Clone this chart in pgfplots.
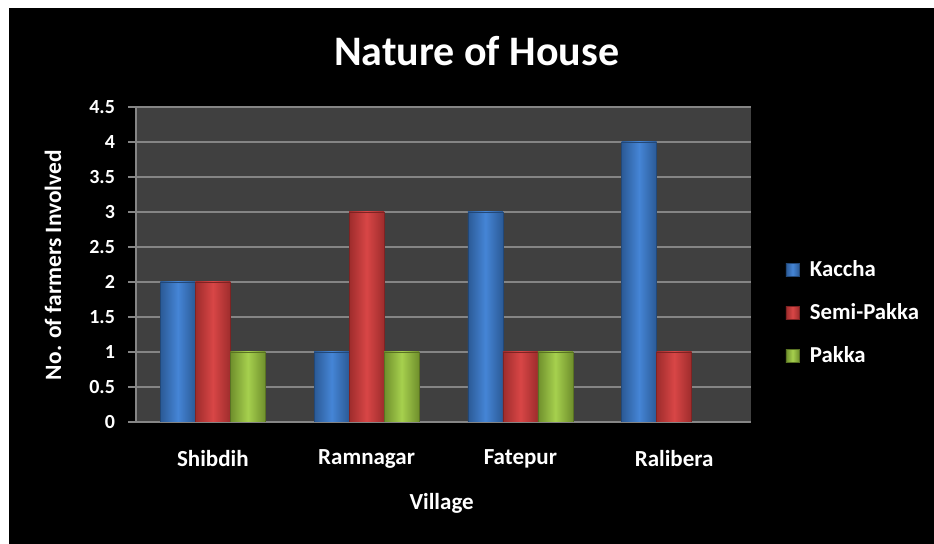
\documentclass[border=0pt]{standalone}
\usepackage{pgfplots}
\pgfplotsset{compat=1.18}
\usepackage{fontspec}
\setmainfont{Carlito}
\definecolor{plotbg}{HTML}{404040}
\definecolor{gridc}{HTML}{858585}
\definecolor{bluemid}{HTML}{4585D6}
\definecolor{blueedge}{HTML}{2B5A96}
\definecolor{redmid}{HTML}{D84646}
\definecolor{rededge}{HTML}{9E2C2C}
\definecolor{greenmid}{HTML}{A6D04E}
\definecolor{greenedge}{HTML}{6F8F2C}
\pgfplotsset{
  kac/.style={left color=blueedge, right color=blueedge, middle color=bluemid, draw=blueedge!80!black, line width=0.3pt, bar shift=-17.5pt},
  semi/.style={left color=rededge, right color=rededge, middle color=redmid, draw=rededge!80!black, line width=0.3pt, bar shift=0pt},
  pak/.style={left color=greenedge, right color=greenedge, middle color=greenmid, draw=greenedge!80!black, line width=0.3pt, bar shift=17.5pt},
}
\begin{document}
\begin{tikzpicture}
\path[use as bounding box, fill=white] (0,0) rectangle (467pt,272pt);
\fill[black] (4.5pt,0) rectangle (467pt,268pt);
\begin{axis}[
  at={(68pt,61pt)}, anchor=south west,
  scale only axis, width=307.5pt, height=157.5pt,
  axis background/.style={fill=plotbg},
  ybar=0pt, bar width=17.5pt,
  xmin=-0.5, xmax=3.5, ymin=0, ymax=4.5,
  xtick={0,1,2,3},
  xticklabels={Shibdih,Ramnagar,Fatepur,Ralibera},
  ytick={0,0.5,...,4.5},
  yticklabels={0,0.5,1,1.5,2,2.5,3,3.5,4,4.5},
  axis x line*=bottom, axis y line*=left,
  axis line style={gridc, line width=0.8pt, -},
  tick align=outside, major tick length=4pt,
  xtick style={draw=none},
  ytick style={gridc, line width=0.8pt},
  ymajorgrids, grid style={gridc, line width=0.8pt},
  yticklabel style={white, font=\fontsize{10}{12}\selectfont\bfseries, xshift=-3pt},
  xticklabel style={white, font=\fontsize{11.5}{13}\selectfont\bfseries, yshift=-6.5pt},
  title={Nature of House},
  title style={white, font=\fontsize{21}{24}\selectfont\bfseries, at={(rel axis cs:0.554,1.14)}, anchor=center},
  xlabel={Village},
  xlabel style={white, font=\fontsize{11.5}{13}\selectfont\bfseries, at={(rel axis cs:0.497,-0.257)}, anchor=center},
  ylabel={No. of farmers Involved},
  ylabel style={white, font=\fontsize{11.7}{13}\selectfont\bfseries, at={(rel axis cs:-0.135,0.498)}, anchor=center, rotate=0},
  legend style={at={(rel axis cs:1.046,0.346)}, anchor=west, fill=black, draw=none,
    text=white, font=\fontsize{11.4}{13}\selectfont\bfseries, row sep=8pt,
    legend cell align=left},
  legend image code/.code={\draw[#1] (0pt,-3.3pt) rectangle (6.6pt,3.3pt); \path (9.8pt,0pt);},
]
\addlegendimage{left color=blueedge, right color=blueedge, middle color=bluemid, draw=blueedge!80!black, line width=0.3pt}
\addlegendentry{Kaccha}
\addlegendimage{left color=rededge, right color=rededge, middle color=redmid, draw=rededge!80!black, line width=0.3pt}
\addlegendentry{Semi-Pakka}
\addlegendimage{left color=greenedge, right color=greenedge, middle color=greenmid, draw=greenedge!80!black, line width=0.3pt}
\addlegendentry{Pakka}
% Kaccha
\addplot[kac, forget plot] coordinates {(0,2)};
\addplot[kac, forget plot] coordinates {(1,1)};
\addplot[kac, forget plot] coordinates {(2,3)};
\addplot[kac, forget plot] coordinates {(3,4)};
% Semi-Pakka
\addplot[semi, forget plot] coordinates {(0,2)};
\addplot[semi, forget plot] coordinates {(1,3)};
\addplot[semi, forget plot] coordinates {(2,1)};
\addplot[semi, forget plot] coordinates {(3,1)};
% Pakka
\addplot[pak, forget plot] coordinates {(0,1)};
\addplot[pak, forget plot] coordinates {(1,1)};
\addplot[pak, forget plot] coordinates {(2,1)};
\addplot[pak, forget plot] coordinates {(3,0)};
\end{axis}
\end{tikzpicture}
\end{document}
